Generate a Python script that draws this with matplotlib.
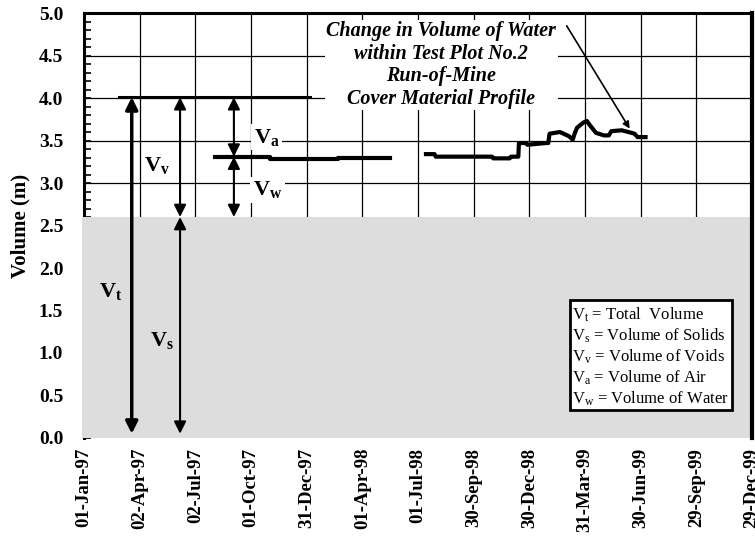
import matplotlib
matplotlib.use('Agg')
import matplotlib.pyplot as plt
import matplotlib.dates as mdates
from matplotlib.ticker import MultipleLocator
from matplotlib.patches import Rectangle
import pandas as pd

plt.rcParams['font.family'] = 'Liberation Serif'
plt.rcParams['mathtext.fontset'] = 'custom'
plt.rcParams['mathtext.rm'] = 'Liberation Serif'
plt.rcParams['mathtext.bf'] = 'Liberation Serif:bold'
plt.rcParams['mathtext.it'] = 'Liberation Serif:italic'

# datos
total_fechas = ['1997-02-27', '1998-01-05']
total_vol = [4.01, 4.01]

agua1_fechas = ['1997-08-03', '1997-11-01', '1998-02-21', '1998-05-16']
agua1_vol = [3.31, 3.28, 3.30, 3.30]

agua2_fechas = ['1998-07-14', '1998-07-28', '1998-07-30', '1998-10-30', '1998-11-01',
                '1998-11-28', '1998-11-30', '1998-12-12', '1998-12-13', '1998-12-24',
                '1998-12-27', '1999-01-26', '1999-01-30', '1999-02-01', '1999-02-18',
                '1999-03-05', '1999-03-11', '1999-03-14', '1999-03-18', '1999-03-28',
                '1999-04-03', '1999-04-08', '1999-04-18', '1999-05-01', '1999-05-09',
                '1999-05-13', '1999-05-30', '1999-06-10', '1999-06-20', '1999-06-25',
                '1999-07-08']
agua2_vol = [3.34, 3.34, 3.31, 3.31, 3.29,
             3.29, 3.31, 3.31, 3.47, 3.47,
             3.45, 3.47, 3.47, 3.58, 3.60,
             3.55, 3.51, 3.58, 3.65, 3.71,
             3.73, 3.68, 3.59, 3.56, 3.56,
             3.61, 3.62, 3.60, 3.58, 3.54,
             3.54]

solidos = 2.6
nivel_total = 4.01
nivel_agua = 3.31

tick_fechas = pd.date_range('1997-01-01', periods=13, freq='91D')

leyenda = [r'V$_\mathrm{t}$ = Total  Volume',
           r'V$_\mathrm{s}$ = Volume of Solids',
           r'V$_\mathrm{v}$ = Volume of Voids',
           r'V$_\mathrm{a}$ = Volume of Air',
           r'V$_\mathrm{w}$ = Volume of Water']

fig = plt.figure(figsize=(7.55, 5.54), dpi=100)
ax = fig.add_axes([0.1113, 0.2094, 0.8847, 0.7671])

d = pd.to_datetime
ax.plot(d(total_fechas), total_vol, color='black', lw=2.2, zorder=4)
ax.plot(d(agua1_fechas), agua1_vol, color='black', lw=3, drawstyle='steps-post', zorder=4)
ax.plot(d(agua2_fechas), agua2_vol, color='black', lw=3, zorder=4)

ax.set_xlim(d('1997-01-01'), d('1999-12-29'))
ax.set_ylim(0, 5)
ax.set_xticks(tick_fechas)
ax.xaxis.set_major_formatter(mdates.DateFormatter('%d-%b-%y'))
ax.yaxis.set_major_locator(MultipleLocator(0.5))
ax.yaxis.set_minor_locator(MultipleLocator(0.1))
ax.yaxis.set_major_formatter(matplotlib.ticker.FormatStrFormatter('%.1f'))
ax.grid(True, which='major', color='black', lw=0.9, zorder=1)
ax.set_axisbelow(True)
ax.tick_params(axis='y', which='both', direction='in', length=5, width=1.2, pad=15)
ax.tick_params(axis='x', length=0, pad=7)
for lab in ax.get_yticklabels():
    lab.set_fontsize(14)
    lab.set_fontweight('bold')
for lab in ax.get_xticklabels():
    lab.set_fontsize(13.5)
    lab.set_fontweight('bold')
    lab.set_rotation(90)
ax.set_ylabel('Volume (m)', fontsize=15, fontweight='bold', labelpad=6)

for s in ['left', 'top', 'right']:
    ax.spines[s].set_linewidth(2.2)
ax.spines['right'].set_linewidth(3)
ax.spines['right'].set_zorder(6)
ax.spines['bottom'].set_visible(False)

# zona gris de solidos
ax.add_patch(Rectangle((-0.003, 0), 1.003, solidos / 5, transform=ax.transAxes,
                       facecolor='#dddddd', edgecolor='none', zorder=3, clip_on=False))

flecha = dict(arrowstyle='<|-|>', mutation_scale=18, color='black', lw=1.5,
              shrinkA=0, shrinkB=0)
x_vt = d('1997-03-20')
x_vs = d('1997-06-07')
x_va = d('1997-09-03')
ax.annotate('', xy=(x_vt, 0.05), xytext=(x_vt, nivel_total),
            arrowprops=dict(flecha, lw=2.5), zorder=5)
ax.annotate('', xy=(x_vs, 0.05), xytext=(x_vs, solidos), arrowprops=flecha, zorder=5)
ax.annotate('', xy=(x_vs, solidos), xytext=(x_vs, nivel_total), arrowprops=flecha, zorder=5)
ax.annotate('', xy=(x_va, nivel_agua), xytext=(x_va, nivel_total), arrowprops=flecha, zorder=5)
ax.annotate('', xy=(x_va, solidos), xytext=(x_va, nivel_agua), arrowprops=flecha, zorder=5)

etq = dict(fontsize=16, ha='center', va='center', zorder=5)
ax.text(d('1997-02-14'), 1.72, r'$\mathbf{V_t}$', **etq)
ax.text(d('1997-05-08'), 1.15, r'$\mathbf{V_s}$', **etq)
ax.text(d('1997-04-30'), 3.21, r'$\mathbf{V_v}$', **etq)
ax.text(d('1997-10-27'), 3.54, r'$\mathbf{V_a}$',
        bbox=dict(facecolor='white', edgecolor='none', pad=2), **etq)
ax.text(d('1997-10-28'), 2.92, r'$\mathbf{V_w}$',
        bbox=dict(facecolor='white', edgecolor='none', pad=2), **etq)

ax.text(d('1998-08-08'), 4.39,
        'Change in Volume of Water\nwithin Test Plot No.2\nRun-of-Mine\nCover Material Profile',
        fontsize=14.5, fontweight='bold', fontstyle='italic', ha='center', va='center',
        linespacing=1.17, zorder=5,
        bbox=dict(facecolor='white', edgecolor='none', pad=1))
ax.annotate('', xy=(d('1999-06-12'), 3.64), xytext=(d('1999-03-01'), 4.85),
            arrowprops=dict(arrowstyle='-|>', mutation_scale=10, color='black', lw=1.2,
                            shrinkA=0, shrinkB=0), zorder=5)

# cuadro de leyenda
ax.add_patch(Rectangle((0.727, 0.066), 0.243, 0.259, transform=ax.transAxes,
                       facecolor='white', edgecolor='black', lw=2, zorder=5))
for i, t in enumerate(leyenda):
    ax.text(0.730, 0.29 - i * 0.0495, t, transform=ax.transAxes, fontsize=12,
            ha='left', va='center', zorder=6)

fig.savefig('out.png', dpi=100)
